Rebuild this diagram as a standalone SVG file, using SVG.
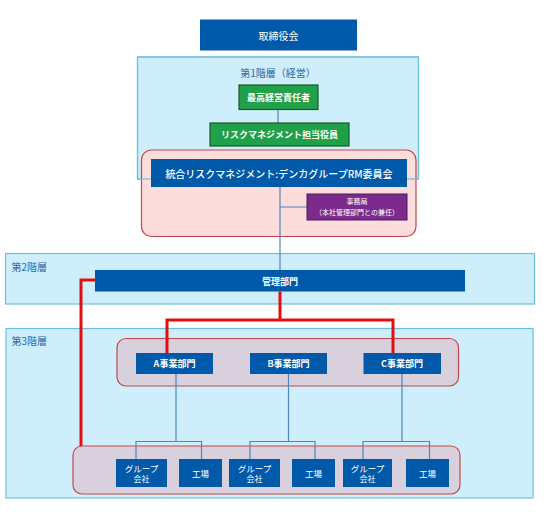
<svg xmlns="http://www.w3.org/2000/svg" width="550" height="512" viewBox="0 0 550 512">
<style>
text{font-family:"Noto Sans CJK JP","Noto Sans",sans-serif;}
.layer{fill:#cdeefa;stroke:#6ec0da;stroke-width:1.2;}
.layerline{fill:none;stroke:#6ec0da;stroke-width:1.2;}
.ltxt{fill:#2a68a6;font-size:10px;}
.blue{fill:#0059a9;}
.green{fill:#21a04a;stroke:#155a28;stroke-width:1.2;}
.purple{fill:#7a2b8c;stroke:#4b1a5a;stroke-width:1;}
.pink{fill:#fddcdc;stroke:#c8464b;stroke-width:1.2;}
.mauve{fill:#d8d0dc;stroke:#c8464b;stroke-width:1.2;}
.wt{fill:#ffffff;text-anchor:middle;dominant-baseline:central;}
.blink{fill:none;stroke:#4f86bc;stroke-width:1.2;}
.red{fill:none;stroke:#e01010;stroke-width:3;}
</style>
<g id="layer1"><rect class="layer" x="137.5" y="57" width="281" height="122"/><text class="ltxt" x="278" y="72" text-anchor="middle" dominant-baseline="central">第1階層（経営）</text></g>
<g id="layer2"><rect class="layer" x="5.5" y="253.5" width="529" height="50.5"/><text class="ltxt" x="11.5" y="266" dominant-baseline="central">第2階層</text></g>
<g id="layer3"><rect class="layer" x="6" y="328.5" width="527" height="169.5"/><text class="ltxt" x="11.5" y="340" dominant-baseline="central">第3階層</text></g>
<g id="rmgroup"><rect class="pink" x="141.5" y="150" width="274.5" height="86.5" rx="10"/></g>
<rect class="layerline" x="137.5" y="57" width="281" height="122"/>
<g id="bizgroup"><rect class="mauve" x="117" y="338.5" width="341.5" height="47.5" rx="9"/></g>
<g id="sitegroup"><rect class="mauve" x="73" y="446" width="387" height="48" rx="9"/></g>
<g id="connectors">
<path class="blink" d="M278 109V123"/>
<path class="blink" d="M280 187V270M280 207H307"/>
<path class="blink" d="M176 374V441.5M136 459V441.5H201.5V459"/>
<path class="blink" d="M288.5 374V441.5M250 459V441.5H315V459"/>
<path class="blink" d="M402 374V441.5M363 459V441.5H429.5V459"/>
<path class="red" d="M95 280H81V446"/>
<path class="red" d="M280 291.5V320M167 353V320H393V353"/>
</g>
<g id="board"><rect class="blue" x="200" y="19.5" width="157" height="31"/><text class="wt" x="278.5" y="35" font-size="10">取締役会</text></g>
<g id="ceo"><rect class="green" x="239" y="85" width="79" height="24.5"/><text class="wt" x="278.5" y="97.5" font-size="9" font-weight="bold">最高経営責任者</text></g>
<g id="rmofficer"><rect class="green" x="210" y="123" width="139" height="23"/><text class="wt" x="279.5" y="134.5" font-size="9" font-weight="bold">リスクマネジメント担当役員</text></g>
<g id="committee"><rect class="blue" x="151" y="159" width="256" height="28"/><text class="wt" x="279" y="173" font-size="10" font-weight="500">統合リスクマネジメント:デンカグループRM委員会</text></g>
<g id="secretariat"><rect class="purple" x="307" y="194" width="100" height="26"/><text class="wt" x="357" y="201" font-size="7">事務局</text><text class="wt" x="357" y="212" font-size="7">（本社管理部門との兼任）</text></g>
<g id="admin"><rect class="blue" x="95" y="270" width="370" height="21.5"/><text class="wt" x="280" y="281" font-size="9" font-weight="bold">管理部門</text></g>
<g id="divA"><rect class="blue" x="136" y="353" width="77" height="21"/><text class="wt" x="174.5" y="363.5" font-size="9" font-weight="bold">A事業部門</text></g>
<g id="divB"><rect class="blue" x="250" y="353" width="77" height="21"/><text class="wt" x="288.5" y="363.5" font-size="9" font-weight="bold">B事業部門</text></g>
<g id="divC"><rect class="blue" x="363.5" y="353" width="77.5" height="21"/><text class="wt" x="402" y="363.5" font-size="9" font-weight="bold">C事業部門</text></g>
<g id="grpA"><rect class="blue" x="116" y="459" width="51" height="28"/><text class="wt" x="141.5" y="467.5" font-size="8.5">グループ</text><text class="wt" x="141.5" y="478.5" font-size="8">会社</text></g>
<g id="facA"><rect class="blue" x="179" y="459" width="43" height="28"/><text class="wt" x="200.5" y="473" font-size="8.5">工場</text></g>
<g id="grpB"><rect class="blue" x="229" y="459" width="51" height="28"/><text class="wt" x="254.5" y="467.5" font-size="8.5">グループ</text><text class="wt" x="254.5" y="478.5" font-size="8">会社</text></g>
<g id="facB"><rect class="blue" x="292" y="459" width="43" height="28"/><text class="wt" x="313.5" y="473" font-size="8.5">工場</text></g>
<g id="grpC"><rect class="blue" x="343" y="459" width="49" height="28"/><text class="wt" x="367.5" y="467.5" font-size="8.5">グループ</text><text class="wt" x="367.5" y="478.5" font-size="8">会社</text></g>
<g id="facC"><rect class="blue" x="406" y="459" width="43" height="28"/><text class="wt" x="427.5" y="473" font-size="8.5">工場</text></g>
</svg>
